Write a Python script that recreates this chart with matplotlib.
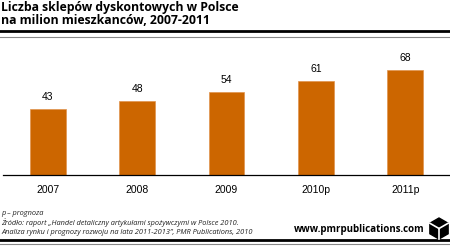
import matplotlib.pyplot as plt
from matplotlib.patches import Polygon
from matplotlib.lines import Line2D

years = ["2007", "2008", "2009", "2010p", "2011p"]
shops = [43, 48, 54, 61, 68]

W, H = 450, 247
fig = plt.figure(figsize=(W / 100, H / 100), dpi=100)


def fy(py):
    # pixel row from top -> figure fraction
    return 1 - py / H


# title
fig.text(1 / W, fy(8), "Liczba sklepów dyskontowych w Polsce", fontsize=8.8,
         fontweight="bold", family="Open Sans", va="center", ha="left")
fig.text(1 / W, fy(21), "na milion mieszkanców, 2007-2011", fontsize=8.8,
         fontweight="bold", family="Open Sans", va="center", ha="left")

# rules at top and bottom
fig.add_artist(Line2D([0, 1], [fy(31.5), fy(31.5)], color="black", lw=2.0))
fig.add_artist(Line2D([0, 1], [fy(37.3), fy(37.3)], color="#888888", lw=0.8))
fig.add_artist(Line2D([0, 1], [fy(240), fy(240)], color="black", lw=2.0))
fig.add_artist(Line2D([0, 1], [fy(244), fy(244)], color="#888888", lw=0.8))

# bars
ax = fig.add_axes([3 / W, fy(175), 1 - 3 / W, 136 / H])
bars = ax.bar(range(len(years)), shops, width=0.4, color="#cc6600",
              edgecolor="#e0934d", linewidth=0.5)
ax.set_xlim(-0.5, len(years) - 0.5)
ax.set_ylim(0, 88)
for b, v in zip(bars, shops):
    ax.text(b.get_x() + b.get_width() / 2, v + 4.5, str(v), ha="center",
            va="bottom", fontsize=7.5, family="Liberation Sans")
ax.set_xticks(range(len(years)))
ax.set_xticklabels(years, fontsize=7.5, family="Liberation Sans")
ax.tick_params(axis="x", length=0, pad=7)
ax.set_yticks([])
for s in ["top", "right", "left"]:
    ax.spines[s].set_visible(False)
ax.spines["bottom"].set_linewidth(0.9)

# footnotes
notes = ["p – prognoza",
         "Źródło: raport „Handel detaliczny artykułami spożywczymi w Polsce 2010.",
         "Analiza rynku i prognozy rozwoju na lata 2011-2013”, PMR Publications, 2010"]
for i, t in enumerate(notes):
    fig.text(1 / W, fy(213 + i * 9.5), t, fontsize=5.35, style="italic",
             family="Open Sans", color="#222222", va="center", ha="left")

fig.text(425 / W, fy(229), "www.pmrpublications.com", fontsize=7,
         fontweight="bold", family="Open Sans", va="center", ha="right")

# cube logo
cx, cy, r = 439, 228.5, 10.5
hexpts = [(cx, cy - r), (cx + r * 0.87, cy - r / 2), (cx + r * 0.87, cy + r / 2),
          (cx, cy + r), (cx - r * 0.87, cy + r / 2), (cx - r * 0.87, cy - r / 2)]
fig.add_artist(Polygon([(x / W, fy(y)) for x, y in hexpts], closed=True,
                       facecolor="black", edgecolor="black",
                       transform=fig.transFigure))
for ex, ey in [(cx, cy + r), (cx + r * 0.87, cy - r / 2), (cx - r * 0.87, cy - r / 2)]:
    fig.add_artist(Line2D([cx / W, ex / W], [fy(cy), fy(ey)], color="white", lw=1.2))

fig.savefig("out.png", dpi=100)
